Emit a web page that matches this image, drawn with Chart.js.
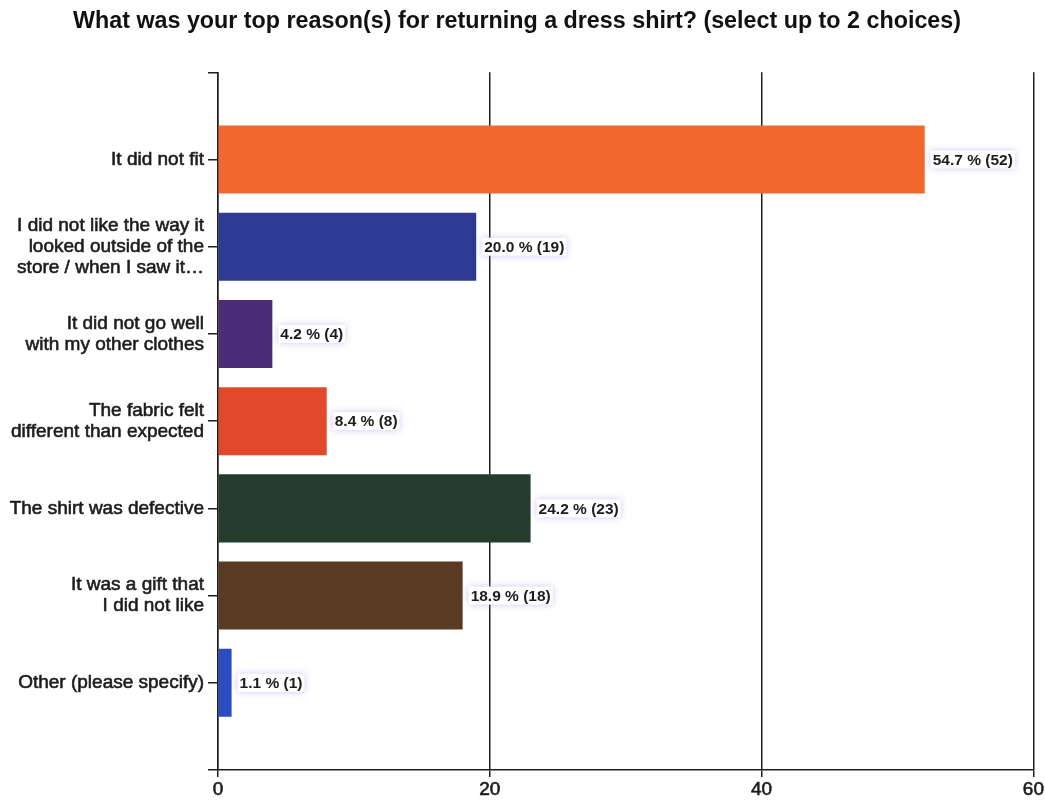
<!DOCTYPE html>
<html>
<head>
<meta charset="utf-8">
<script src="https://cdn.jsdelivr.net/npm/chart.js@4/dist/chart.umd.min.js"></script>
<style>
  html, body { margin: 0; padding: 0; background: #ffffff; }
  #wrap { width: 1045px; height: 803px; }
</style>
</head>
<body>
<div id="wrap"><canvas id="c" width="1045" height="803"></canvas></div>
<script>
// Survey answers (top to bottom), response counts and the percentage shown beside each bar
const categories = [
  ['It did not fit'],
  ['I did not like the way it', 'looked outside of the', 'store / when I saw it\u2026'],
  ['It did not go well', 'with my other clothes'],
  ['The fabric felt', 'different than expected'],
  ['The shirt was defective'],
  ['It was a gift that', 'I did not like'],
  ['Other (please specify)']
];
const counts = [52, 19, 4, 8, 23, 18, 1];
const percents = [54.7, 20.0, 4.2, 8.4, 24.2, 18.9, 1.1];
const barColors = ['#f2672d', '#2d3a94', '#4a2c78', '#e2492b', '#253b2c', '#5a3a23', '#2b4cc4'];
const xTicks = [0, 20, 40, 60];

const FONT = '"Liberation Sans", Arial, sans-serif';
const INK = '#1c1c1c';

// Empty slots above and below so each answer sits half a row away from the frame
const labels = [''].concat(categories, ['']);
const values = [null].concat(counts, [null]);
const colors = ['#fff'].concat(barColors, ['#fff']);
const pcts = [null].concat(percents, [null]);

const valueLabels = {
  id: 'valueLabels',
  afterDatasetsDraw(chart) {
    const ctx = chart.ctx;
    const meta = chart.getDatasetMeta(0);
    ctx.save();
    ctx.font = 'bold 15.5px ' + FONT;
    ctx.textBaseline = 'middle';
    meta.data.forEach((bar, i) => {
      if (values[i] == null) return;
      const text = pcts[i].toFixed(1) + ' % (' + values[i] + ')';
      const x = bar.x + 8;
      const y = bar.y;
      const w = ctx.measureText(text).width;
      ctx.save();
      ctx.shadowColor = 'rgba(170,160,235,0.6)';
      ctx.shadowBlur = 7;
      ctx.fillStyle = '#ffffff';
      ctx.fillRect(x - 2, y - 9, w + 4, 18);
      ctx.restore();
      ctx.fillStyle = INK;
      ctx.fillText(text, x, y + 1);
    });
    ctx.restore();
  }
};

new Chart(document.getElementById('c'), {
  type: 'bar',
  data: {
    labels: labels,
    datasets: [{
      data: values,
      backgroundColor: colors,
      borderWidth: 0,
      barPercentage: 0.78,
      categoryPercentage: 1.0
    }]
  },
  options: {
    indexAxis: 'y',
    responsive: false,
    animation: false,
    layout: { padding: { left: 0, right: 11, top: 0, bottom: 0 } },
    plugins: {
      legend: { display: false },
      tooltip: { enabled: false },
      title: {
        display: true,
        text: 'What was your top reason(s) for returning a dress shirt? (select up to 2 choices)',
        color: '#111111',
        font: { family: FONT, size: 23.3, weight: 'bold', lineHeight: 1.0 },
        padding: { top: 10, bottom: 39 }
      }
    },
    scales: {
      x: {
        type: 'linear',
        min: 0,
        max: 60,
        afterBuildTicks(scale) { scale.ticks = xTicks.map(v => ({ value: v })); },
        afterFit(scale) { scale.height = 33; },
        ticks: { color: INK, font: { family: FONT, size: 19 }, padding: 1,
                 textStrokeColor: INK, textStrokeWidth: 0.6 },
        grid: { color: '#1e1e1e', lineWidth: 1.5, tickLength: 7, drawOnChartArea: true },
        border: { display: true, color: '#1e1e1e', width: 1.5 }
      },
      y: {
        type: 'category',
        offset: false,
        afterFit(scale) { scale.width = 218; },
        ticks: { color: INK, font: { family: FONT, size: 19, lineHeight: 1.1 }, padding: 4, autoSkip: false,
                 textStrokeColor: INK, textStrokeWidth: 0.6 },
        grid: { offset: false, drawOnChartArea: false, color: '#1e1e1e', lineWidth: 1.5, tickLength: 10 },
        border: { display: true, color: '#1e1e1e', width: 1.5 }
      }
    }
  },
  plugins: [valueLabels]
});
</script>
</body>
</html>
